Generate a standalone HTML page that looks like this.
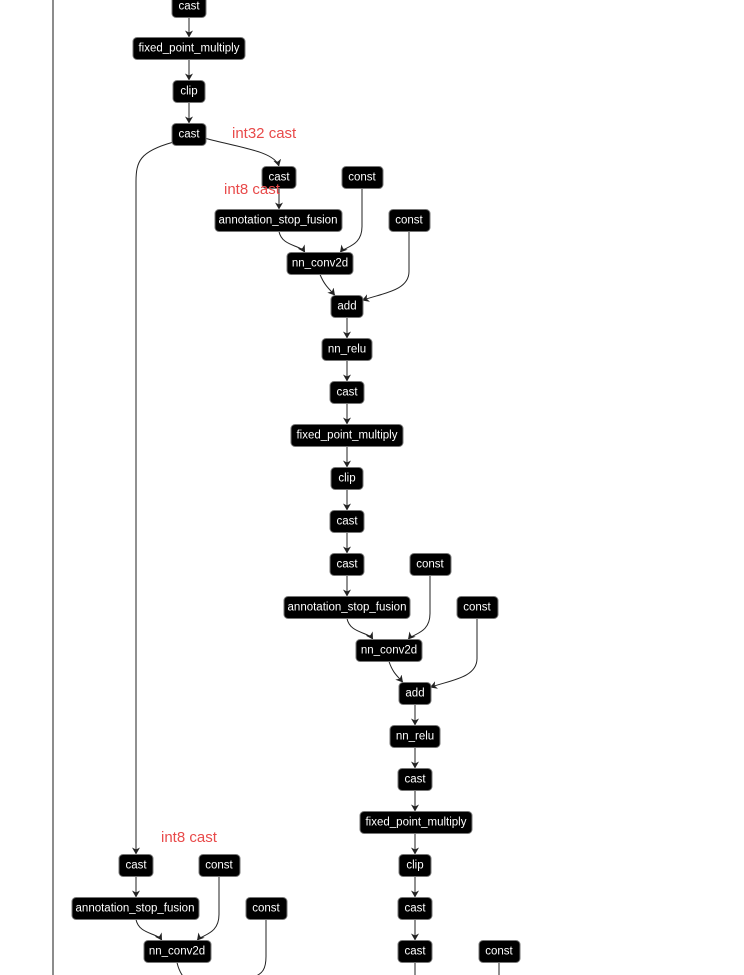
<!DOCTYPE html>
<html><head><meta charset="utf-8"><style>
html,body{margin:0;padding:0;background:#fff;width:744px;height:975px;overflow:hidden}
svg{display:block}
.n rect{fill:#000;stroke:#777;stroke-width:1}
.n text{fill:#fff;font-family:"Liberation Sans",sans-serif;font-size:11.5px;text-anchor:middle;dominant-baseline:central}
.e{fill:none;stroke:#222;stroke-width:1}
.l{fill:#e84a4a;font-family:"Liberation Sans",sans-serif;font-size:15px}
</style></head><body>
<svg width="744" height="975" viewBox="0 0 744 975" xmlns="http://www.w3.org/2000/svg">
<defs><marker id="a" markerWidth="8" markerHeight="8" refX="7" refY="4" orient="auto" markerUnits="userSpaceOnUse"><path d="M0,0 L7,4 L0,8 L2,4 Z" fill="#222"/></marker></defs>
<line x1="53" y1="0" x2="53" y2="975" stroke="#666" stroke-width="1.5"/>
<g transform="translate(0,1.5)">
<g marker-end="url(#a)">
<path class="e" d="M189,16 V36"/>
<path class="e" d="M189,58 V79"/>
<path class="e" d="M189,101 V122"/>
<path class="e" d="M206,137 C240,146 275,150 279,165"/>
<path class="e" d="M172,141 C140,150 136,160 136,180 V853"/>
<path class="e" d="M279,187 V208"/>
<path class="e" d="M279,230 C282,245 300,243 305,251"/>
<path class="e" d="M362,187 V225 C362,245 345,245 340,251"/>
<path class="e" d="M320,273 C325,285 330,288 335,294"/>
<path class="e" d="M409,230 V270 C409,290 380,292 362,299"/>
<path class="e" d="M347,316 V337"/>
<path class="e" d="M347,359 V380"/>
<path class="e" d="M347,402 V423"/>
<path class="e" d="M347,445 V466"/>
<path class="e" d="M347,488 V509"/>
<path class="e" d="M347,531 V552"/>
<path class="e" d="M347,574 V595"/>
<path class="e" d="M347,617 C350,632 368,630 373,638"/>
<path class="e" d="M430,574 V612 C430,632 413,632 408,638"/>
<path class="e" d="M389,660 C393,672 398,675 403,681"/>
<path class="e" d="M477,617 V657 C477,677 448,679 430,686"/>
<path class="e" d="M415,703 V724"/>
<path class="e" d="M415,746 V767"/>
<path class="e" d="M415,789 V810"/>
<path class="e" d="M415,832 V853"/>
<path class="e" d="M415,875 V896"/>
<path class="e" d="M415,918 V939"/>
<path class="e" d="M136,875 V896"/>
<path class="e" d="M136,918 C139,933 157,931 162,939"/>
<path class="e" d="M219,875 V913 C219,933 202,933 197,939"/>
</g>
<path class="e" d="M415,961 V975"/>
<path class="e" d="M499,961 V975"/>
<path class="e" d="M177,961 C179,970 182,973 183,975"/>
<path class="e" d="M266,918 V955 C266,968 262,972 255,975"/>
<g class="n">
<rect x="172" y="-6" width="34" height="22" rx="4"/><text x="189" y="5">cast</text>
<rect x="133" y="36" width="112" height="22" rx="4"/><text x="189" y="47">fixed_point_multiply</text>
<rect x="173" y="79" width="32" height="22" rx="4"/><text x="189" y="90">clip</text>
<rect x="172" y="122" width="34" height="22" rx="4"/><text x="189" y="133">cast</text>
<rect x="262" y="165" width="34" height="22" rx="4"/><text x="279" y="176">cast</text>
<rect x="342" y="165" width="41" height="22" rx="4"/><text x="362" y="176">const</text>
<rect x="215" y="208" width="127" height="22" rx="4"/><text x="278" y="219">annotation_stop_fusion</text>
<rect x="389" y="208" width="41" height="22" rx="4"/><text x="409" y="219">const</text>
<rect x="287" y="251" width="66" height="22" rx="4"/><text x="320" y="262">nn_conv2d</text>
<rect x="331" y="294" width="32" height="22" rx="4"/><text x="347" y="305">add</text>
<rect x="322" y="337" width="50" height="22" rx="4"/><text x="347" y="348">nn_relu</text>
<rect x="330" y="380" width="34" height="22" rx="4"/><text x="347" y="391">cast</text>
<rect x="291" y="423" width="112" height="22" rx="4"/><text x="347" y="434">fixed_point_multiply</text>
<rect x="331" y="466" width="32" height="22" rx="4"/><text x="347" y="477">clip</text>
<rect x="330" y="509" width="34" height="22" rx="4"/><text x="347" y="520">cast</text>
<rect x="330" y="552" width="34" height="22" rx="4"/><text x="347" y="563">cast</text>
<rect x="410" y="552" width="41" height="22" rx="4"/><text x="430" y="563">const</text>
<rect x="284" y="595" width="126" height="22" rx="4"/><text x="347" y="606">annotation_stop_fusion</text>
<rect x="457" y="595" width="41" height="22" rx="4"/><text x="477" y="606">const</text>
<rect x="356" y="638" width="66" height="22" rx="4"/><text x="389" y="649">nn_conv2d</text>
<rect x="399" y="681" width="32" height="22" rx="4"/><text x="415" y="692">add</text>
<rect x="390" y="724" width="50" height="22" rx="4"/><text x="415" y="735">nn_relu</text>
<rect x="398" y="767" width="34" height="22" rx="4"/><text x="415" y="778">cast</text>
<rect x="360" y="810" width="112" height="22" rx="4"/><text x="416" y="821">fixed_point_multiply</text>
<rect x="399" y="853" width="32" height="22" rx="4"/><text x="415" y="864">clip</text>
<rect x="398" y="896" width="34" height="22" rx="4"/><text x="415" y="907">cast</text>
<rect x="398" y="939" width="34" height="22" rx="4"/><text x="415" y="950">cast</text>
<rect x="479" y="939" width="41" height="22" rx="4"/><text x="499" y="950">const</text>
<rect x="119" y="853" width="34" height="22" rx="4"/><text x="136" y="864">cast</text>
<rect x="199" y="853" width="41" height="22" rx="4"/><text x="219" y="864">const</text>
<rect x="72" y="896" width="127" height="22" rx="4"/><text x="135" y="907">annotation_stop_fusion</text>
<rect x="246" y="896" width="41" height="22" rx="4"/><text x="266" y="907">const</text>
<rect x="144" y="939" width="67" height="22" rx="4"/><text x="177" y="950">nn_conv2d</text>
</g>
</g>
<text class="l" x="232" y="138">int32 cast</text>
<text class="l" x="224" y="194">int8 cast</text>
<text class="l" x="161" y="842">int8 cast</text>
</svg>
</body></html>
